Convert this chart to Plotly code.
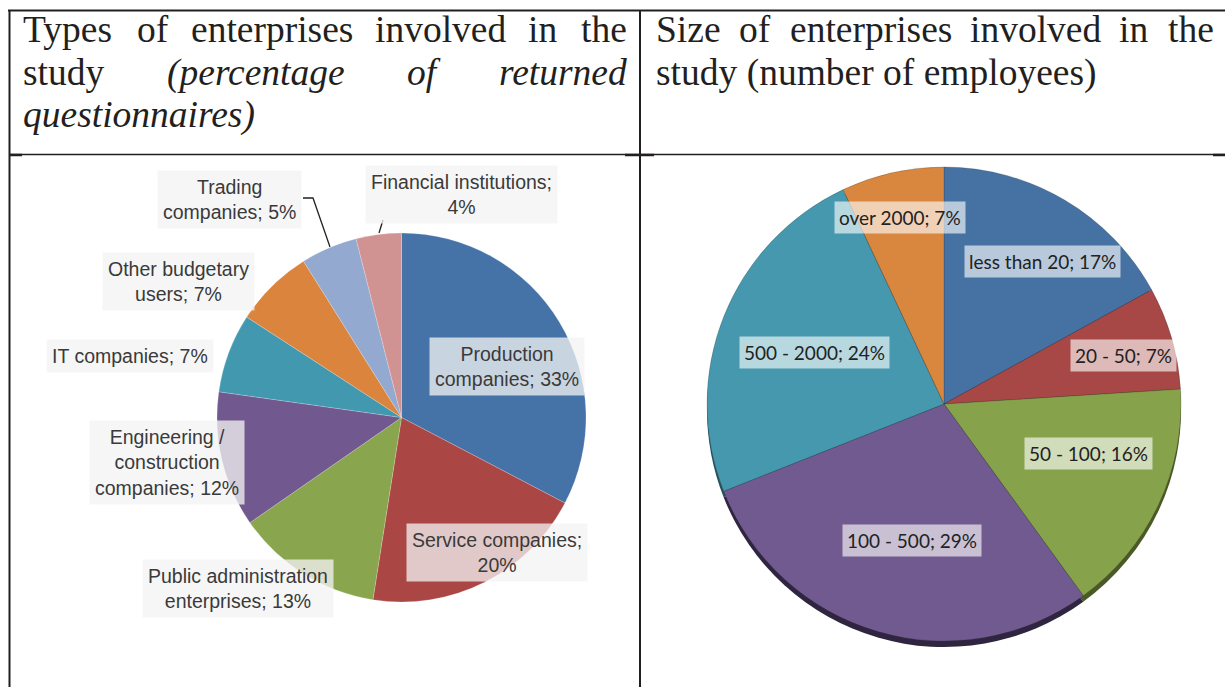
import plotly.graph_objects as go

# ---------------- data ----------------
cats1 = ["Production companies", "Service companies", "Public administration enterprises",
         "Engineering / construction companies", "IT companies", "Other budgetary users",
         "Trading companies", "Financial institutions"]
vals1 = [33, 20, 13, 12, 7, 7, 5, 4]
colors1 = ["#4572A7", "#AA4643", "#89A54E", "#71588F", "#4198AF", "#DB843D", "#93A9CF", "#D19392"]
# indices of spaces where the label wraps
breaks1 = [[0], [1], [1], [1, 2], [], [1], [0], [1]]

cats2 = ["less than 20", "20 - 50", "50 - 100", "100 - 500", "500 - 2000", "over 2000"]
vals2 = [17, 7, 16, 29, 24, 7]
colors2 = ["#4671A3", "#A74846", "#86A24B", "#715A8F", "#4598AD", "#D9873F"]
shadow2 = ["#2a3f5c", "#5a2524", "#4a5a26", "#2f2540", "#25505c", "#6e4220"]

W, H = 1225, 687
FX = lambda px: px / W
FY = lambda py: 1 - py / H


def wrap(text, idxs):
    parts = text.split(" ")
    out = parts[0]
    for i, p in enumerate(parts[1:]):
        out += ("<br>" if i in idxs else " ") + p
    return out


fig = go.Figure()

# ---- left pie ----
fig.add_trace(go.Pie(
    labels=cats1, values=vals1, sort=False, direction="clockwise", rotation=0,
    marker=dict(colors=colors1, line=dict(color="rgba(255,255,255,0.4)", width=0.5)),
    textinfo="none", hoverinfo="label+value",
    domain=dict(x=[FX(217), FX(586)], y=[FY(602), FY(233)]),
))

# ---- right pie (shadow + main) ----
fig.add_trace(go.Pie(
    labels=cats2, values=vals2, sort=False, direction="clockwise", rotation=0,
    marker=dict(colors=shadow2, line=dict(width=0)),
    textinfo="none", hoverinfo="skip",
    domain=dict(x=[FX(707), FX(1181)], y=[FY(647), FY(173)]),
))
fig.add_trace(go.Pie(
    labels=cats2, values=vals2, sort=False, direction="clockwise", rotation=0,
    marker=dict(colors=colors2, line=dict(color="rgba(40,40,40,0.35)", width=0.6)),
    textinfo="none", hoverinfo="label+value",
    domain=dict(x=[FX(707), FX(1181)], y=[FY(641), FY(167)]),
))

annotations = []
shapes = []

# ---- header text (justified by hand) ----
SERIF = "Liberation Serif, Times New Roman, serif"
TXT = "#231f20"


def word(x, yc, t, italic=False, anchor="left"):
    if italic:
        t = "<i>" + t + "</i>"
    annotations.append(dict(x=FX(x), y=FY(yc), xref="paper", yref="paper", text=t,
                            showarrow=False, xanchor=anchor, yanchor="middle",
                            font=dict(family=SERIF, size=37.5, color=TXT)))


y1, y2, y3 = 30, 73, 115
for x, t in [(21, "Types"), (135, "of"), (189.4, "enterprises"), (373.3, "involved"),
             (526.4, "in"), (578.8, "the")]:
    word(x, y1, t)
word(21, y2, "study")
word(164.5, y2, "(percentage", italic=True)
word(404.5, y2, "of", italic=True)
word(496.6, y2, "returned", italic=True)
word(21, y3, "questionnaires)", italic=True)

for x, t in [(654, "Size"), (737.4, "of"), (787.9, "enterprises"), (967.9, "involved"),
             (1117.1, "in"), (1165.6, "the")]:
    word(x, y1, t)
word(654, y2, "study (number of employees)")

# ---- left pie labels ----
pos1 = [(507, 366), (497, 552), (238, 588), (167, 462), (130, 356), (178, 281), (229, 199), (461, 194)]
SANS = "Liberation Sans, Arial, sans-serif"
for c, v, b, (px, py) in zip(cats1, vals1, breaks1, pos1):
    annotations.append(dict(
        x=FX(px), y=FY(py), xref="paper", yref="paper",
        text=wrap(f"{c}; {v}%", b), showarrow=False, xanchor="center", yanchor="middle",
        align="center", bgcolor="rgba(243,243,243,0.76)", borderpad=5,
        font=dict(family=SANS, size=19.5, color="#3a3a3a"),
    ))

# ---- right pie labels ----
pos2 = [(1042, 261), (1123, 355), (1088, 453), (912, 540), (814, 352), (900, 217)]
for c, v, (px, py) in zip(cats2, vals2, pos2):
    annotations.append(dict(
        x=FX(px), y=FY(py), xref="paper", yref="paper",
        text=f"{c}; {v}%", showarrow=False, xanchor="center", yanchor="middle",
        bgcolor="rgba(255,255,255,0.62)", borderpad=4,
        font=dict(family="Lato, Open Sans, sans-serif", size=19, color="#222222"),
    ))


# ---- table lines and leader lines ----
def line(x0, y0, x1, y1, w=2, color=TXT):
    shapes.append(dict(type="line", xref="paper", yref="paper",
                       x0=FX(x0), y0=FY(y0), x1=FX(x1), y1=FY(y1),
                       line=dict(color=color, width=w)))


line(8, 10.5, 1225, 10.5)
line(9.5, 10, 9.5, 687)
line(640, 10, 640, 687)
line(9, 154.5, 1225, 154.5, w=1.5)
line(9, 155, 22, 155, w=2.5)
line(625, 155, 654, 155, w=2.5)
line(1213, 155, 1225, 155, w=2.5)
shapes.append(dict(type="path", xref="paper", yref="paper",
                   path=f"M {FX(303)} {FY(198)} L {FX(313)} {FY(198)} L {FX(330)} {FY(247)}",
                   line=dict(color="#222222", width=1.3)))
line(383, 220, 379, 233, w=1.3, color="#222222")

fig.update_layout(
    width=W, height=H, margin=dict(l=0, r=0, t=0, b=0),
    paper_bgcolor="white", plot_bgcolor="white", showlegend=False,
    annotations=annotations, shapes=shapes,
)

fig.write_html("out.html", config={"displayModeBar": False},
               post_script="document.body.style.margin='0';document.body.style.overflow='hidden';")
